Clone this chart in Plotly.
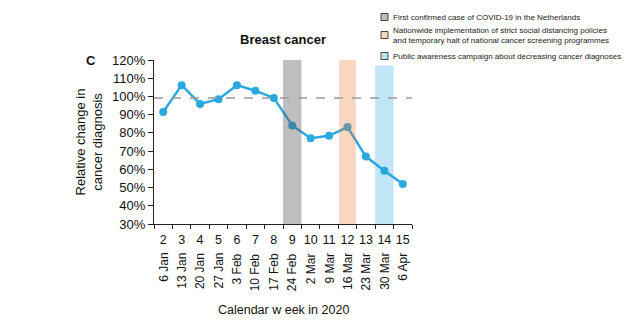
import plotly.graph_objects as go

weeks = list(range(2, 16))
dates = ["6 Jan", "13 Jan", "20 Jan", "27 Jan", "3 Feb", "10 Feb", "17 Feb", "24 Feb",
         "2 Mar", "9 Mar", "16 Mar", "23 Mar", "30 Mar", "6 Apr"]
values = [91.5, 106.2, 95.9, 98.5, 106.2, 103.1, 99.2, 84.1, 77.1, 78.4, 83.2, 67.0, 59.2, 52.0]
baseline = 99.2
y_ticks = [30, 40, 50, 60, 70, 80, 90, 100, 110, 120]

# event bands: (start week, end week, top value, translucent colour)
bands = [
    (8.5, 9.5, 120, "rgba(92,92,92,0.40)"),
    (11.55, 12.45, 120, "rgba(235,118,42,0.30)"),
    (13.5, 14.5, 117, "rgba(30,160,225,0.28)"),
]
legend_items = [
    ("First confirmed case of COVID-19 in the Netherlands", "#bdbdbd"),
    ("Nationwide implementation of strict social distancing policies<br>and temporary halt of national cancer screening programmes", "#f9d6bf"),
    ("Public awareness campaign about decreasing cancer diagnoses", "#bfe6f8"),
]

W, H = 631, 324
L, R, T, B = 154, 219, 60, 100
PW, PH = W - L - R, H - T - B
def px(x):
    return (x - L) / PW
def py(y):
    return (H - B - y) / PH

FONT = "Liberation Sans, Arial, sans-serif"
fig = go.Figure()
fig.add_trace(go.Scatter(
    x=weeks, y=values, mode="lines+markers",
    line=dict(color="#2ba8e0", width=2.5),
    marker=dict(color="#2ba8e0", size=8),
    hoverinfo="skip", showlegend=False,
))

shapes = []
for x0, x1, top, col in bands:
    shapes.append(dict(type="rect", xref="x", yref="y", x0=x0, x1=x1, y0=30, y1=top,
                       fillcolor=col, line=dict(width=0), layer="above"))
shapes.append(dict(type="line", xref="paper", yref="y", x0=0, x1=1, y0=baseline, y1=baseline,
                   line=dict(color="#999999", width=1.5, dash="dash"), layer="above"))

annotations = []
leg_y = [17, 35, 56]
for (txt, col), yy in zip(legend_items, leg_y):
    shapes.append(dict(type="rect", xref="paper", yref="paper",
                       x0=px(381), x1=px(388), y0=py(yy + 3.5), y1=py(yy - 3.5),
                       fillcolor=col, line=dict(color="#444444", width=1)))
    annotations.append(dict(xref="paper", yref="paper", x=px(391), y=py(yy),
                            xanchor="left", yanchor="middle", align="left",
                            text=txt, showarrow=False,
                            font=dict(family=FONT, size=8, color="#222222")))

for w, d in zip(weeks, dates):
    annotations.append(dict(xref="x", yref="paper", x=w, y=0, yshift=-27,
                            xanchor="center", yanchor="top", textangle=-90,
                            text=d, showarrow=False,
                            font=dict(family=FONT, size=12, color="#111111")))

annotations.append(dict(xref="paper", yref="paper", x=0.5, y=py(310),
                        xanchor="center", yanchor="middle", text="Calendar w eek in 2020",
                        showarrow=False, font=dict(family=FONT, size=12.5, color="#111111")))
annotations.append(dict(xref="paper", yref="paper", x=0.5, y=py(40),
                        xanchor="center", yanchor="middle", text="<b>Breast cancer</b>",
                        showarrow=False, font=dict(family=FONT, size=13, color="#111111")))
annotations.append(dict(xref="paper", yref="paper", x=px(91), y=py(60),
                        xanchor="center", yanchor="middle", text="<b>C</b>",
                        showarrow=False, font=dict(family=FONT, size=13, color="#111111")))

fig.update_layout(
    width=W, height=H, margin=dict(l=L, r=R, t=T, b=B, pad=0),
    paper_bgcolor="white", plot_bgcolor="white",
    font=dict(family=FONT, color="#111111"),
    shapes=shapes, annotations=annotations, showlegend=False,
    xaxis=dict(range=[1.5, 15.5], tickmode="array", tickvals=weeks,
               ticktext=[str(w) for w in weeks], ticks="", showgrid=False,
               ticklabelstandoff=4,
               zeroline=False, showline=True, linecolor="#222222", linewidth=1.2,
               tickfont=dict(size=12.5, family=FONT, color="#111111"),
               minor=dict(tickmode="linear", tick0=1.5, dtick=1, ticks="outside",
                          ticklen=4, tickcolor="#222222", showgrid=False)),
    yaxis=dict(range=[30, 120], tickvals=y_ticks, ticktext=[f"{v}%" for v in y_ticks],
               ticks="outside", ticklen=5, tickcolor="#222222", showgrid=False,
               zeroline=False, showline=True, linecolor="#222222", linewidth=1.2,
               tickfont=dict(size=13, family=FONT, color="#111111"),
               title=dict(text="Relative change in<br>cancer diagnosis", standoff=6,
                          font=dict(size=13, family=FONT, color="#111111"))),
)
fig.write_html("out.html")
